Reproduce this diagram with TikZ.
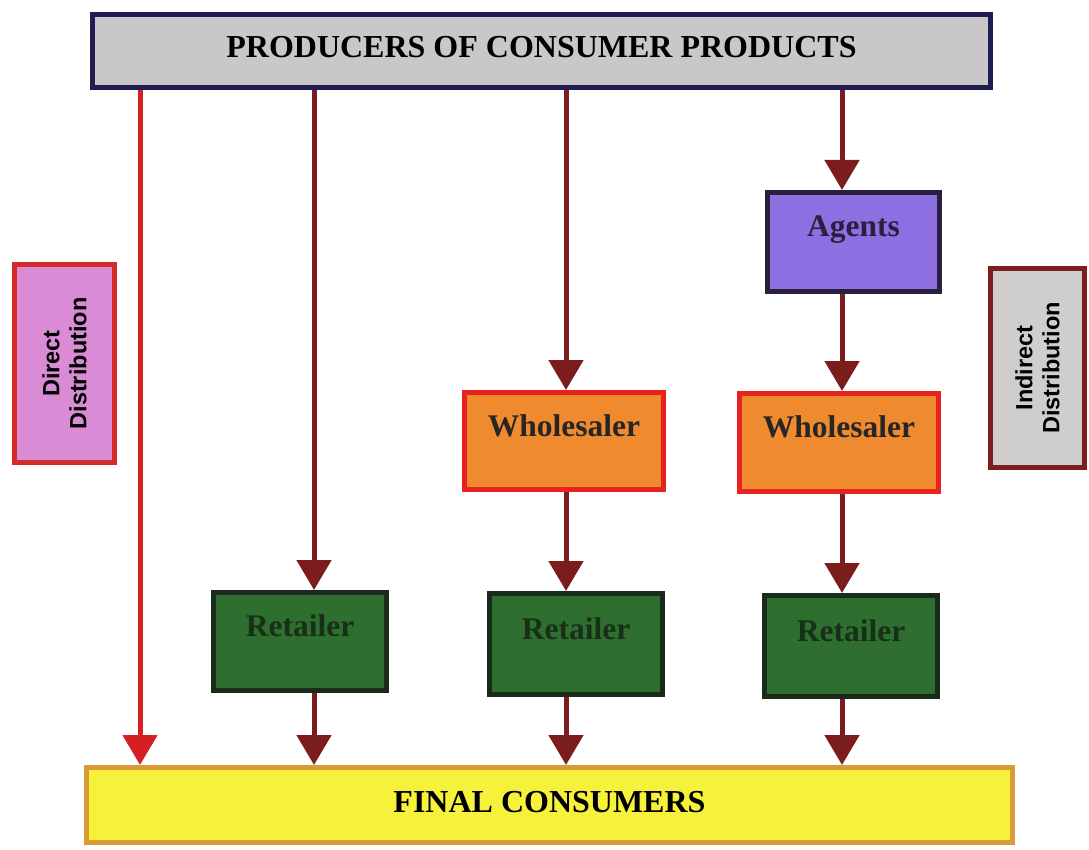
\documentclass[tikz,border=0pt]{standalone}
\usepackage{fontspec}
\setmainfont{Liberation Serif}
\setsansfont{Liberation Sans}
\usetikzlibrary{arrows.meta}
\definecolor{topfill}{HTML}{C9C7C7}
\definecolor{topdraw}{HTML}{1E1E55}
\definecolor{dirfill}{HTML}{D98BD6}
\definecolor{dirdraw}{HTML}{D42A2A}
\definecolor{indfill}{HTML}{D0CDCD}
\definecolor{inddraw}{HTML}{7A1E22}
\definecolor{agfill}{HTML}{8C6FE0}
\definecolor{agdraw}{HTML}{2A1F3F}
\definecolor{whfill}{HTML}{F08A2E}
\definecolor{whdraw}{HTML}{E8221E}
\definecolor{rtfill}{HTML}{2E6E2E}
\definecolor{rtdraw}{HTML}{1B2B1B}
\definecolor{rttext}{HTML}{183018}
\definecolor{fcfill}{HTML}{F6F23C}
\definecolor{fcdraw}{HTML}{DA9A36}
\definecolor{arrdark}{HTML}{7B1D1D}
\definecolor{arrred}{HTML}{D42024}
\begin{document}
\begin{tikzpicture}[x=1pt,y=-1pt,
  box/.style={rectangle, line width=5pt, inner sep=0pt,
    font=\bfseries\fontsize{31.5}{34}\selectfont, text height=22pt, text depth=32pt},
  bar/.style={rectangle, line width=5pt, inner sep=0pt,
    font=\bfseries\fontsize{32}{35}\selectfont, text height=22pt, text depth=8pt},
  side/.style={rectangle, line width=5pt, inner sep=0pt, rotate=90, align=center,
    font=\sffamily\bfseries\fontsize{23.5}{27}\selectfont},
  flow/.style={line width=5pt, draw=arrdark, -{Triangle[width=34pt,length=30pt]}},
  direct/.style={line width=5pt, draw=arrred, -{Triangle[width=34pt,length=30pt]}}
]
\useasboundingbox (0,0) rectangle (1089,850);

\node[bar, fill=topfill, draw=topdraw, minimum width=898pt, minimum height=73pt] (top) at (541.5,51) {PRODUCERS OF CONSUMER PRODUCTS};
\node[bar, fill=fcfill, draw=fcdraw, minimum width=926pt, minimum height=75pt] (final) at (549.5,805) {FINAL CONSUMERS};

\node[side, fill=dirfill, draw=dirdraw, minimum width=198pt, minimum height=100pt] (dir) at (64.5,363.5) {Direct\\Distribution};
\node[side, fill=indfill, draw=inddraw, minimum width=199pt, minimum height=94pt] (ind) at (1037.5,368) {Indirect\\Distribution};

\node[box, fill=agfill, draw=agdraw, text=agdraw, minimum width=172pt, minimum height=99pt] (ag) at (853.5,242) {Agents};
\node[box, fill=whfill, draw=whdraw, text=black!85, minimum width=199pt, minimum height=97pt] (wh1) at (564,441) {Wholesaler};
\node[box, fill=whfill, draw=whdraw, text=black!85, minimum width=199pt, minimum height=98pt] (wh2) at (839,442.5) {Wholesaler};
\node[box, fill=rtfill, draw=rtdraw, text=rttext, minimum width=173pt, minimum height=98pt] (r1) at (300,641.5) {Retailer};
\node[box, fill=rtfill, draw=rtdraw, text=rttext, minimum width=173pt, minimum height=101pt] (r2) at (576,644) {Retailer};
\node[box, fill=rtfill, draw=rtdraw, text=rttext, minimum width=173pt, minimum height=101pt] (r3) at (851,646) {Retailer};

\coordinate (c0) at (140,0);
\coordinate (c1) at (314,0);
\coordinate (c2) at (566,0);
\coordinate (c3) at (842,0);

\draw[direct] (c0 |- top.south) -- (c0 |- final.north);
\draw[flow] (c1 |- top.south) -- (c1 |- r1.north);
\draw[flow] (c2 |- top.south) -- (c2 |- wh1.north);
\draw[flow] (c3 |- top.south) -- (c3 |- ag.north);
\draw[flow] (c3 |- ag.south) -- (c3 |- wh2.north);
\draw[flow] (c2 |- wh1.south) -- (c2 |- r2.north);
\draw[flow] (c3 |- wh2.south) -- (c3 |- r3.north);
\draw[flow] (c1 |- r1.south) -- (c1 |- final.north);
\draw[flow] (c2 |- r2.south) -- (c2 |- final.north);
\draw[flow] (c3 |- r3.south) -- (c3 |- final.north);
\end{tikzpicture}
\end{document}
